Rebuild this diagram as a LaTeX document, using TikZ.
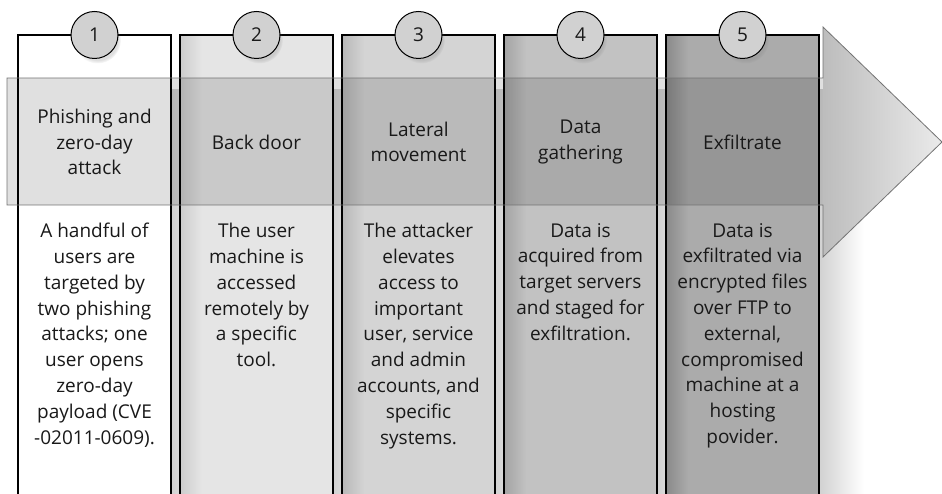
\documentclass[tikz,border=0pt]{standalone}
\usepackage{fontspec}
\setmainfont{Open Sans}
\usetikzlibrary{shadows}

\begin{document}
\begin{tikzpicture}[x=1pt,y=-1pt,
    num/.style={circle,draw=black,line width=1pt,fill=black!18,minimum size=47pt,inner sep=0pt,
        font=\fontsize{19}{19}\selectfont,text=black!90,
        circular drop shadow={shadow xshift=3pt,shadow yshift=-5pt,shadow scale=1.0,opacity=0.25}},
    head/.style={align=center,font=\fontsize{19}{25.5}\selectfont,text=black!90},
    body/.style={align=center,anchor=north,inner sep=0pt,font=\fontsize{19}{25.8}\selectfont,text=black!90}]
    \useasboundingbox (0,0) rectangle (942,494);

    \foreach \i/\lvl/\dk in {1/0/0,2/10/20,3/17/28,4/24/36,5/33/46}{
        \pgfmathsetmacro\xl{18+162*(\i-1)}
        \pgfmathsetmacro\xr{\xl+153}
        \shade[left color=black!18,right color=white] (\xr,90) rectangle ++(45,404);
        \fill[black!\lvl] (\xl,35) rectangle (\xr,494);
        \shade[left color=black!\dk,right color=black!\lvl] (\xl,35) rectangle ++(22,459);
        \draw[line width=1.3pt] (\xl,494)--(\xl,35)--(\xr,35)--(\xr,494);
        \node[num] (n\i) at ({\xl+76.5},35) {\i};
    }

    \fill[black,fill opacity=0.12] (7,78) rectangle (823,205);
    \shade[left color=black!26,right color=black!8] (823,27)--(942,142)--(823,257)--cycle;
    \draw[black!55,line width=0.8pt] (7,78)--(823,78)--(823,27)--(942,142)--(823,257)--(823,205)--(7,205)--cycle;

    \foreach \i/\head/\body in {
        1/{Phishing and\\zero-day\\attack}/{A handful of\\users are\\targeted by\\two phishing\\attacks; one\\user opens\\zero-day\\payload (CVE\\-02011-0609).},
        2/{Back door}/{The user\\machine is\\accessed\\remotely by\\a specific\\tool.},
        3/{Lateral\\movement}/{The attacker\\elevates\\access to\\important\\user, service\\and admin\\accounts, and\\specific\\systems.},
        4/{Data\\gathering}/{Data is\\acquired from\\target servers\\and staged for\\exfiltration.},
        5/{Exfiltrate}/{Data is\\exfiltrated via\\encrypted files\\over FTP to\\external,\\compromised\\machine at a\\hosting\\povider.}}{
        \node[head] (h\i) at ({94.5+162*(\i-1)},142) {\head};
        \node[body] (b\i) at ({94.5+162*(\i-1)},223) {\body};
    }
\end{tikzpicture}
\end{document}
